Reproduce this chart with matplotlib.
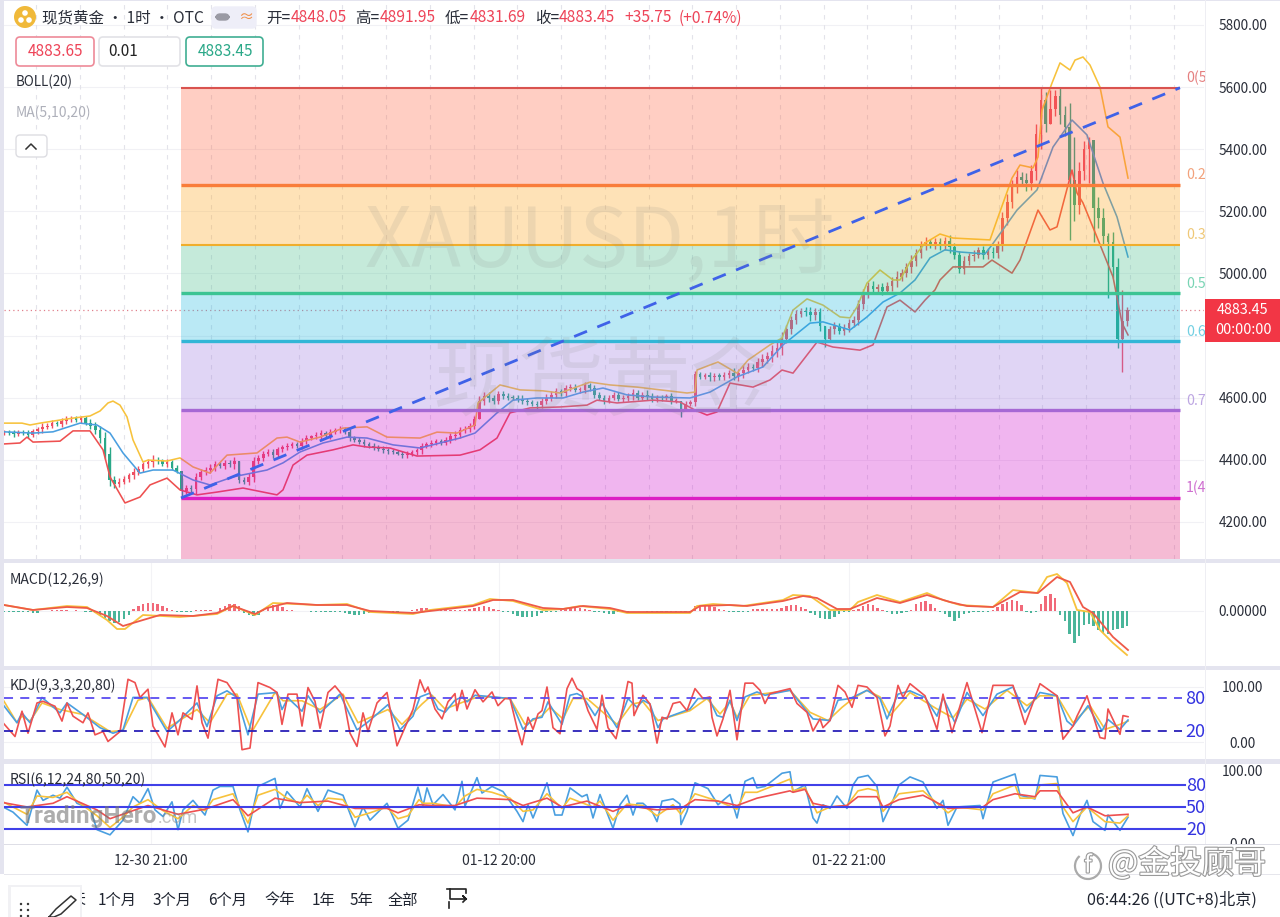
import numpy as np
import matplotlib
matplotlib.use('Agg')
import matplotlib.pyplot as plt
import matplotlib.patheffects as pe
from matplotlib.patches import Rectangle, FancyBboxPatch, Circle, Arc

plt.rcParams['font.family'] = ['Noto Sans CJK SC', 'DejaVu Sans']

W, H = 1280, 917

# ---- price candles, one every 4.8 time units
closes = [4489,4485,4482,4490,4486,4480,4492,4498,4505,4510,
          4520,4515,4525,4530,4535,4528,4533,4520,4510,4495,
          4470,4420,4335,4322,4330,4338,4350,4362,4370,4385,
          4392,4400,4395,4388,4392,4375,4365,4300,4310,4305,
          4345,4360,4368,4375,4385,4380,4390,4385,4395,4335,
          4330,4345,4395,4405,4420,4425,4415,4435,4440,4445,
          4450,4445,4460,4470,4475,4480,4485,4478,4490,4495,
          4500,4490,4470,4465,4458,4450,4445,4440,4435,4430,
          4428,4425,4420,4415,4420,4425,4430,4445,4450,4455,
          4460,4455,4465,4475,4480,4495,4500,4510,4530,4590,
          4605,4598,4590,4612,4605,4600,4598,4595,4590,4585,
          4580,4575,4590,4600,4610,4620,4615,4630,4635,4625,
          4625,4640,4630,4610,4600,4590,4600,4610,4595,4600,
          4605,4615,4600,4610,4605,4595,4600,4598,4605,4590,
          4590,4565,4580,4585,4675,4668,4672,4665,4670,4668,
          4672,4680,4670,4678,4690,4700,4695,4715,4725,4735,
          4750,4760,4790,4820,4850,4870,4880,4875,4865,4875,
          4830,4790,4820,4830,4815,4825,4840,4850,4900,4935,
          4960,4950,4955,4945,4960,4975,4990,5000,5020,5040,
          5065,5090,5100,5095,5100,5090,5105,5085,5060,5015,
          5040,5055,5060,5075,5060,5070,5065,5090,5180,5230,
          5280,5310,5300,5290,5330,5450,5560,5480,5530,5570,
          5510,5470,5300,5220,5330,5400,5430,5210,5180,5120,
          5100,5020,4790,4848.05,4883.45]
wicks = [8,6,10,7,5,9,6,8,12,7, 9,6,8,10,7,5,9,8,10,12,
         15,18,20,12,10,9,8,12,10,9, 11,14,9,8,10,7,9,12,10,8,
         14,10,9,12,11,8,10,9,14,10, 9,12,15,10,8,9,10,7,9,8,
         8,7,9,10,6,8,12,9,10,8, 9,7,10,8,7,9,6,8,7,9,
         8,7,6,9,8,7,9,10,8,9, 8,7,9,10,12,9,8,10,12,14,
         14,12,9,11,8,9,7,10,12,9, 8,10,9,12,11,10,9,12,10,8,
         9,11,8,12,9,10,8,9,7,10,
         10,12,9,8,14,10,9,8,7,9, 8,10,9,7,11,9,8,12,10,11,
         12,10,14,15,14,12,10,13,15,12, 20,18,22,15,14,12,10,13,18,15,
         14,16,12,15,10,12,14,13,15,14, 14,16,12,15,12,15,18,14,13,20,
         15,14,16,12,15,14,13,18,14,12, 16,12,14,10,13,12,14,16,18,25,
         20,22,18,25,20,30,28,25,30,22, 30,28,30,35,30,28,25,30,35,30,
         30,35,30,30,0]
spike_i = [37, 49, 99, 141, 171, 216, 218, 222, 223, 226, 227, 230, 233, 234]
spike_high = [4340,4395,4605,4590,4830,5598,5590,5550,5440,5440,5300,5130,4947,4891.95]
spike_low = [4277,4325,4530,4538,4763,5400,5480,5108,5170,5290,5100,4920,4683,4831.69]

# ---- bollinger bands
upper_t = [4,22,30,40,60,75,90,100,108,113,120,127,133,143,148,167,180,193,210,227,257,277,287,300,320,343,367,387,420,437,457,475,478,500,520,543,560,590,610,637,687,695,697,718,737,748,770,782,793,807,823,840,850,857,867,880,893,900,910,925,940,953,990,997,1012,1020,1033,1038,1042,1052,1060,1070,1075,1083,1090,1100,1108,1120,1128]
upper = [4518,4518,4512,4518,4528,4535,4541,4557,4583,4589,4576,4538,4464,4393,4399,4396,4406,4377,4357,4415,4422,4470,4473,4457,4473,4502,4506,4473,4470,4489,4486,4512,4583,4641,4625,4622,4615,4650,4641,4634,4615,4618,4689,4715,4679,4721,4770,4792,4882,4918,4898,4860,4857,4892,4969,5011,4979,4979,5037,5098,5127,5114,5108,5172,5307,5349,5340,5375,5526,5613,5678,5655,5687,5697,5671,5600,5472,5439,5307]
mid_t = [4,33,53,80,97,110,123,140,153,173,193,210,233,267,283,300,323,347,367,393,420,460,475,497,513,537,563,583,603,627,653,690,710,737,763,783,810,823,850,867,883,900,915,930,945,960,985,992,1017,1037,1053,1072,1087,1103,1117,1128]
mid = [4490,4486,4490,4518,4512,4486,4422,4357,4367,4367,4335,4319,4345,4367,4390,4425,4454,4473,4470,4448,4438,4470,4486,4551,4592,4599,4599,4618,4631,4609,4602,4599,4618,4667,4699,4770,4840,4844,4818,4860,4908,4937,4979,5050,5076,5069,5063,5092,5204,5269,5407,5494,5446,5291,5182,5053]
lower_t = [4,20,27,33,60,73,90,103,110,125,140,150,167,180,197,217,243,277,283,293,307,333,353,367,390,417,460,480,497,510,530,560,587,597,617,653,680,695,707,717,730,753,770,782,793,817,833,860,873,887,900,915,925,935,940,953,983,992,1012,1020,1038,1050,1057,1072,1077,1083,1097,1113,1122,1128]
lower = [4451,4454,4473,4457,4460,4493,4493,4432,4345,4261,4280,4319,4341,4303,4287,4296,4309,4287,4303,4383,4415,4432,4448,4441,4438,4412,4415,4432,4470,4551,4567,4570,4576,4592,4583,4592,4586,4560,4544,4554,4647,4634,4657,4689,4679,4779,4763,4753,4770,4892,4914,4876,4914,4947,4979,5021,5021,5043,5001,5043,5204,5140,5150,5333,5259,5227,5117,4989,4840,4802]

# ---- fibonacci retracement
fib_start, fib_end = 181, 1180
fib_levels = [5598, 5286, 5093, 4937, 4782, 4560, 4277]
fib_labels = ['0(5', '0.2', '0.3', '0.5', '0.6', '0.7', '1(4']
fib_line_colors = ['#d9534f', '#f97d3a', '#f0ae2c', '#3cc493', '#32b6d6', '#a668d4', '#dc1fc4']
fib_text_colors = ['#e58080', '#f2a27c', '#efc878', '#79d4b4', '#72cfe2', '#bda6e2', '#cf6fd0']
fib_fill_colors = ['#ff5f3a', '#fea212', '#41bc87', '#1cb7de', '#9b76de', '#d00ccd', '#e12073']

price_ticks = [4200, 4400, 4600, 4800, 5000, 5200, 5400, 5600, 5800]
shown_ticks = [4200, 4400, 4600, 5000, 5200, 5400, 5600, 5800]
time_ticks = [151, 499, 849]
time_labels = ['12-30 21:00', '01-12 20:00', '01-22 21:00']
last_price = 4883.45

# ---- macd
macd_hist = [-1,-2,-2,-2,-2,-2,-3,-4,1,1, 2,2,2,2,1,2,1,-1,-2,-4,
             -8,-14,-20,-24,-22,-16,-8,4,10,14, 16,16,14,10,6,3,-1,-2,-2,-2,
             2,3,3,2,1,6,10,14,14,10, -4,-8,-10,-8,4,8,12,12,8,2,
             2,1,1,1,-1,-1,-1,-1,-1,-1, -2,-4,-6,-8,-8,-6,-4,-3,-2,-2,
             -1,-1,-1,1,1,2,4,6,6,2, 2,2,2,2,2,3,3,4,6,8,
             10,8,4,2,-1,-2,-6,-10,-12,-12, -12,-10,-4,-1,-2,-2,2,4,6,6,
             6,4,2,-1,-2,-4,-6,-6,-2,-1, -1,1,1,1,-1,-1,-1,-1,-1,-1,
             -1,-1,-1,-2,10,12,12,10,8,4, 2,-1,-1,-2,-2,-2,4,4,4,4,
             5,4,6,10,12,12,8,4,-4,-8, -14,-16,-16,-12,-6,-2,-1,2,4,10,
             14,12,6,2,-2,-6,-6,-4,-2,2, 14,18,20,14,6,-2,-6,-12,-20,-14,
             -6,-3,-2,-2,-1,-1,2,8,14,18, 22,20,12,-2,-3,-2,14,30,34,26,
             -8,-20,-45,-64,-50,-28,-26,-30,-38,-44, -46,-38,-36,-34,-30]
dif_t = [4,33,67,87,107,117,125,143,180,217,233,255,273,317,347,370,413,430,473,490,513,543,563,580,610,627,690,697,713,743,783,793,810,830,850,858,877,900,927,943,960,993,1013,1037,1047,1057,1067,1077,1090,1100,1113,1127]
dif = [12,2,10,8,-18,-36,-36,-8,-12,-6,10,-8,16,12,14,-2,-6,2,12,24,20,2,4,10,4,-4,-4,10,14,10,22,32,30,2,2,18,32,18,36,22,12,8,42,36,68,74,56,2,-2,-38,-64,-88]
dea_t = [4,33,67,87,107,123,143,160,193,217,233,255,267,287,317,347,370,413,430,473,493,513,543,563,583,610,627,690,700,730,747,783,803,817,837,850,860,877,900,927,950,967,993,1020,1038,1057,1070,1083,1093,1113,1128]
dea = [12,2,8,6,-10,-30,-18,-8,-10,-4,10,-6,6,16,12,12,0,-4,0,10,22,22,6,4,10,6,-2,-2,10,12,10,20,30,26,4,4,12,26,16,32,18,10,8,38,36,68,58,8,-4,-52,-78]

# ---- kdj
j_t = [3,15,22,28,37,43,55,62,67,73,83,88,95,103,108,120,128,135,140,148,153,165,172,178,183,192,197,202,208,218,227,237,242,250,258,270,277,282,288,297,302,308,315,320,328,335,343,350,357,363,368,377,387,397,407,413,420,425,428,435,442,448,455,457,462,467,475,483,492,498,505,510,517,522,528,533,538,542,547,553,560,567,572,577,582,588,597,602,608,616,623,628,632,634,643,650,657,662,667,673,680,687,695,703,710,712,717,723,730,737,745,753,760,765,770,790,797,807,813,820,823,830,838,845,852,858,867,877,885,890,898,903,910,925,937,943,952,967,982,993,1013,1025,1040,1057,1063,1073,1077,1087,1100,1105,1108,1120,1123,1128]
j_val = [35,10,56,16,71,74,65,38,71,47,35,53,13,19,1,19,114,108,81,96,29,-9,53,13,53,41,102,35,7,114,108,81,-14,-11,108,99,90,32,87,87,29,99,74,25,90,102,84,16,-8,53,19,71,90,-7,35,59,113,91,100,60,42,73,88,57,94,60,95,73,91,66,79,79,26,-5,45,23,51,57,100,26,15,97,116,97,91,57,23,85,26,6,63,110,107,48,85,69,-2,45,42,70,73,57,97,79,82,45,11,42,94,4,107,107,94,70,88,97,70,54,20,42,26,39,103,91,63,103,100,81,11,29,103,81,106,84,23,87,17,108,17,103,103,32,106,84,5,29,47,84,8,6,60,14,48,46]
k_t = [3,17,22,30,42,60,67,83,100,113,123,133,147,167,177,197,207,217,227,237,248,258,277,282,288,302,308,320,340,357,367,388,400,413,420,430,438,445,455,462,467,475,493,510,523,533,542,548,562,570,577,583,595,602,617,628,637,643,650,658,663,690,698,709,717,723,730,737,745,757,765,790,805,813,830,838,850,867,880,887,898,910,925,937,943,955,967,983,997,1013,1025,1040,1057,1067,1073,1088,1102,1108,1120,1128]
k_val = [68,35,53,35,81,53,71,50,26,16,22,81,81,19,35,71,28,84,93,81,13,87,90,59,80,56,84,53,87,22,35,68,22,47,82,89,60,54,76,82,73,85,82,79,23,42,45,73,32,85,88,82,48,70,26,79,63,76,69,26,42,60,79,79,48,45,76,39,82,91,85,94,60,42,39,76,79,94,79,42,87,93,81,47,81,35,90,48,87,100,54,90,84,38,29,66,20,41,23,40]
d_t = [3,17,22,30,42,60,83,110,123,138,148,167,197,210,227,237,252,275,283,302,320,343,358,388,402,422,432,445,468,480,510,525,542,550,563,573,587,617,632,643,658,663,690,707,720,730,737,750,765,790,810,828,842,853,867,880,890,910,937,953,967,985,1007,1027,1040,1057,1073,1090,1105,1120,1128]
d_val = [77,35,47,38,71,59,50,19,21,76,81,25,59,35,87,87,19,90,75,75,59,87,35,59,32,69,85,60,76,83,79,32,48,63,42,79,79,32,69,73,39,42,57,79,51,73,45,85,88,94,54,39,63,79,94,82,48,90,60,44,78,60,94,66,84,84,35,66,23,32,38]

# ---- rsi
rsi6_t = [3,13,27,37,43,53,60,67,77,90,97,110,123,133,140,148,155,163,172,178,183,193,205,213,220,233,240,248,258,275,280,287,300,307,318,328,343,355,363,370,387,398,408,418,423,427,433,443,455,462,465,477,482,492,503,517,523,528,533,547,555,562,570,582,587,593,600,613,620,627,633,637,643,652,657,662,673,680,681,687,695,708,718,730,737,745,753,757,765,782,790,793,805,813,817,823,830,837,847,853,858,868,877,883,893,899,910,923,937,943,948,957,980,983,993,1015,1020,1035,1040,1057,1063,1073,1080,1087,1093,1105,1108,1120,1128]
rsi6 = [50,43,25,73,59,66,62,77,55,48,19,12,32,64,55,75,46,37,57,19,46,59,39,73,78,78,46,16,78,89,48,71,50,75,44,73,66,23,50,32,55,21,32,77,51,76,53,67,46,85,51,90,69,78,71,44,30,53,35,83,39,39,76,64,67,35,67,21,53,66,39,55,55,44,30,58,61,54,26,44,83,75,53,67,35,85,90,76,78,96,98,71,80,35,28,53,48,65,48,80,90,93,78,30,59,80,91,84,48,59,25,50,52,34,84,95,66,61,93,91,41,11,39,59,30,18,39,18,36]
rsi12_t = [3,27,37,53,67,77,97,110,123,133,148,163,178,193,205,213,233,248,258,275,287,300,307,318,328,343,355,370,387,398,408,419,423,433,455,465,477,492,510,523,533,547,562,570,593,600,613,627,643,657,673,681,695,718,737,745,757,790,793,805,817,830,847,858,868,877,883,899,923,948,957,983,993,1015,1020,1035,1040,1057,1063,1073,1087,1105,1120,1128]
rsi12 = [57,40,65,63,70,58,38,22,36,50,60,45,34,52,45,60,68,28,66,74,62,55,66,52,62,60,36,42,50,34,38,60,55,55,50,65,74,70,62,44,46,68,48,62,50,58,32,54,52,38,53,40,68,58,47,70,70,88,72,76,42,50,52,72,75,72,44,68,72,42,50,46,68,80,62,62,80,82,50,30,50,30,28,38]
rsi24_t = [3,27,53,67,97,110,133,148,178,205,233,248,275,300,328,355,387,398,419,433,455,477,510,523,547,562,587,613,627,657,681,695,718,737,757,790,793,805,813,830,847,858,877,883,899,923,948,983,993,1015,1035,1040,1057,1073,1087,1105,1128]
rsi24 = [56,50,55,64,46,34,45,52,40,47,60,38,62,56,58,48,48,42,53,52,52,62,60,52,62,50,58,44,52,46,48,60,58,52,62,72,70,74,55,50,52,64,64,50,60,66,48,50,60,68,64,72,72,42,50,38,40]

UP = '#ef4f62'
DOWN = '#2aa888'
YELLOW = '#f7c23c'
BLUE = '#4a9fe0'
RED = '#ee5050'


def pane(y0, y1, ylim):
    ax = fig.add_axes([4 / W, 1 - y1 / H, 1200 / W, (y1 - y0) / H])
    ax.set_xlim(4, 1204)
    ax.set_ylim(*ylim)
    for s in ax.spines.values():
        s.set_visible(False)
    ax.set_xticks([])
    ax.yaxis.tick_right()
    ax.tick_params(axis='y', length=0, pad=28, labelsize=9.8, labelcolor='#2a2e39')
    return ax


def set_prices(ax, ticks, labels):
    ax.set_yticks(ticks)
    ax.set_yticklabels(labels)
    for t in ax.get_yticklabels():
        t.set_ha('center')


fig = plt.figure(figsize=(W / 100, H / 100), dpi=100, facecolor='white')

# ---------- main pane
ax = pane(0, 559, (4080.5, 5880.5))
set_prices(ax, shown_ticks, ['%.2f' % p for p in shown_ticks])

for p in price_ticks:
    ax.axhline(p, color='#f1f1f5', lw=0.8, zorder=0)
for t in np.arange(36, 1204, 43.75):
    ax.axvline(t, color='#e3e3ea', lw=0.8, ls=(0, (4, 5)), zorder=0)

candle_t = 4 + 4.8 * np.arange(len(closes))
c = np.array(closes, dtype=float)
o = np.r_[c[0], c[:-1]]
w = np.array(wicks, dtype=float)
hi = np.maximum(o, c) + w
lo = np.minimum(o, c) - w
hi[spike_i] = spike_high
lo[spike_i] = spike_low
col = [UP if b >= a else DOWN for a, b in zip(o, c)]
ax.vlines(candle_t, lo, hi, colors=col, lw=1.0, zorder=2)
ax.bar(candle_t, np.maximum(np.abs(c - o), 4), bottom=np.minimum(o, c), width=2.6, color=col, lw=0, zorder=2)

ax.plot(upper_t, upper, color=YELLOW, lw=1.15, zorder=2)
ax.plot(mid_t, mid, color=BLUE, lw=1.15, zorder=2)
ax.plot(lower_t, lower, color=RED, lw=1.15, zorder=2)

ax.axhline(last_price, color='#e0808c', lw=0.9, ls=(0, (1, 2.5)), zorder=2)

# fib bands go over the candles
edges = fib_levels + [ax.get_ylim()[0]]
for i in range(len(fib_levels)):
    ax.fill_between([fib_start, fib_end], edges[i + 1], edges[i], color=fib_fill_colors[i], alpha=0.3, lw=0, zorder=3)
for i, lev in enumerate(fib_levels):
    thick = 2.4 if i in (1, 3, 4, 5, 6) else 1.5
    ax.plot([fib_start, fib_end], [lev, lev], color=fib_line_colors[i], lw=thick, solid_capstyle='butt', zorder=4)
    ax.text(1186, lev + 8, fib_labels[i], color=fib_text_colors[i], fontsize=10.2, va='bottom', ha='left', zorder=5)

ax.plot([fib_start, fib_end], [fib_levels[-1], fib_levels[0]], color='#3f62e8', lw=2.0, ls=(0, (5, 4)), zorder=4)

ax.text(600, 5095, 'XAUUSD,1时', fontsize=59, color='#808080', alpha=0.13, ha='center', va='center', zorder=5)
ax.text(605, 4640, '现货黄金', fontsize=62, color='#808080', alpha=0.13, ha='center', va='center', zorder=5)

# ---------- macd pane
ax_m = pane(563, 666, (-110, 96))
set_prices(ax_m, [0], ['0.00000'])
ax_m.axhline(0, color='#f1f1f5', lw=0.8, zorder=0)
hist = np.array(macd_hist, dtype=float)
ax_m.bar(candle_t, hist, width=2.4, color=[UP if v > 0 else DOWN for v in hist], lw=0, alpha=0.85, zorder=1)
ax_m.plot(dif_t, dif, color=YELLOW, lw=1.3, zorder=2)
ax_m.plot(dea_t, dea, color='#ee5a48', lw=1.3, zorder=3)
for t in time_ticks:
    ax_m.axvline(t, color='#f3f3f6', lw=0.8, zorder=0)

# ---------- kdj pane
ax_k = pane(670, 759, (-30.9, 130.9))
set_prices(ax_k, [0, 100], ['0.00', '100.00'])
ax_k.plot(d_t, d_val, color=YELLOW, lw=1.2, zorder=2)
ax_k.plot(k_t, k_val, color=BLUE, lw=1.2, zorder=3)
ax_k.plot(j_t, j_val, color=RED, lw=1.2, zorder=4)
for v in (0, 100):
    ax_k.axhline(v, color='#f1f1f5', lw=0.8, zorder=0)
for t in time_ticks:
    ax_k.axvline(t, color='#f3f3f6', lw=0.8, zorder=0)
ax_k.plot([4, 1182], [80, 80], color='#5a4cf0', lw=1.3, ls=(0, (5, 4)), zorder=5)
ax_k.plot([4, 1182], [20, 20], color='#2a20b8', lw=1.3, ls=(0, (5, 4)), zorder=5)
ax_k.text(1185, 78, '80', color='#3434e0', fontsize=13, va='center')
ax_k.text(1185, 18, '20', color='#3434e0', fontsize=13, va='center')

# ---------- rsi pane
ax_r = pane(764, 844, (-0.5, 108.6))
set_prices(ax_r, [0, 100], ['0.00', '100.00'])
ax_r.plot(rsi6_t, rsi6, color=BLUE, lw=1.2, zorder=2)
ax_r.plot(rsi12_t, rsi12, color=YELLOW, lw=1.2, zorder=3)
ax_r.plot(rsi24_t, rsi24, color=RED, lw=1.2, zorder=4)
for t in time_ticks:
    ax_r.axvline(t, color='#f3f3f6', lw=0.8, zorder=0)
for v in (80, 50, 20):
    ax_r.plot([4, 1185], [v, v], color='#4040e8', lw=1.5, zorder=5)
    ax_r.text(1186, v - 1, str(v), color='#3434e0', fontsize=13, va='center')

ax_r.set_xticks(time_ticks)
ax_r.set_xticklabels(time_labels, fontsize=10, color='#2a2e39')
ax_r.tick_params(axis='x', length=0, pad=7.2)

# ---------- screen furniture, in pixels
ui = fig.add_axes([0, 0, 1, 1], zorder=10)
ui.set_xlim(0, W)
ui.set_ylim(H, 0)
ui.axis('off')
ui.patch.set_alpha(0)


def rect(x0, y0, x1, y1, color, z=1):
    ui.add_patch(Rectangle((x0, y0), x1 - x0, y1 - y0, fc=color, ec='none', zorder=z))


def rbox(x0, y0, x1, y1, ec, fc='white', z=3, lw=1.0):
    ui.add_patch(FancyBboxPatch((x0, y0), x1 - x0, y1 - y0, boxstyle='round,pad=0,rounding_size=4', fc=fc, ec=ec, lw=lw, zorder=z))


def label(x, y, s, color='#2a2e39', size=10.8, ha='left', z=4, **kw):
    return ui.text(x, y + 1, s, color=color, fontsize=size, ha=ha, va='center', zorder=z, **kw)


SEP = '#e4e4ef'
rect(0, 0, 4, 874, SEP)
rect(0, 559, W, 563, SEP)
rect(0, 666, W, 670, SEP)
rect(0, 759, W, 764, SEP)
rect(0, 0, W, 1, SEP)
rect(1205, 0, 1206, 844, '#eeeef3')
rect(4, 844, W, 845, '#dedee6')
rect(1205, 845, W, 870, 'white')
rect(4, 874, W, 875, '#e6e6ec')

# header
ui.add_patch(Circle((25, 17), 11, fc='#f0b93a', ec='none', zorder=3))
for cx, cy in [(25, 13), (21, 20), (29, 20)]:
    ui.add_patch(Circle((cx, cy), 2.8, fc='white', ec='none', zorder=4))
label(42, 17, '现货黄金 • 1时 • OTC', size=11.2)
rbox(212, 7, 256, 28, '#eeeef8', fc='#eeeef8')
rbox(216, 14, 229, 20, '#9a9aa4', fc='#9a9aa4')
label(238, 16, '≈', color='#f0904a', size=11)
for x, s in zip([266, 355, 445, 535], ['开=', '高=', '低=', '收=']):
    label(x, 17, s, size=11.2)
for x, s in zip([291, 380, 470, 559, 624, 679], ['4848.05', '4891.95', '4831.69', '4883.45', '+35.75', '(+0.74%)']):
    label(x, 17, s, color='#ee4458', size=11.2)

rbox(16, 37, 94, 66, '#ee8a98', lw=1.2)
label(55, 51, '4883.65', color='#ee4458', ha='center', size=11)
rbox(99, 37, 180, 66, '#e2e2e6', lw=1.2)
label(108, 51, '0.01', color='#222222', size=11)
rbox(186, 37, 263, 66, '#3fae92', lw=1.2)
label(225, 51, '4883.45', color='#2aa888', ha='center', size=11)

label(16, 81, 'BOLL(20)', size=9.6)
label(16, 112, 'MA(5,10,20)', color='#aeb0ba', size=10)
rbox(16, 135, 47, 157, '#dddde2')
ui.plot([26, 31, 36], [149, 144, 149], color='#333333', lw=1.1, zorder=5)

# price tag
rect(1205, 299, 1280, 342, '#f23645', z=5)
label(1243, 309, '4883.45', color='white', ha='center', z=6, size=10.4)
label(1243, 329, '00:00:00', color='white', ha='center', z=6, size=10.4)

# pane titles
label(10, 579, 'MACD(12,26,9)', size=10.1)
label(10, 685, 'KDJ(9,3,3,20,80)', size=10.2)
label(10, 779, 'RSI(6,12,24,80,50,20)', size=10.1)

# watermarks
ui.text(20, 817, 'TradingHero', family='Roboto', fontweight='bold', fontsize=17.5, color='#777777', alpha=0.6, va='center', zorder=6)
ui.text(158, 818, '.com', family='Roboto', fontsize=13, color='#888888', alpha=0.5, va='center', zorder=6)
halo = [pe.withStroke(linewidth=1.6, foreground='#9a9a9a')]
ui.text(1108, 864, '@金投顾哥', color='white', fontsize=23, va='center', zorder=7, path_effects=[pe.Stroke(linewidth=1.6, foreground='#9a9a9a'), pe.Normal()])
ui.add_patch(Arc((1088, 866), 26, 26, theta1=-80, theta2=230, ec='#aaaaaa', lw=1.6, zorder=7))
ui.text(1088, 866, 'f', color='white', fontsize=17, ha='center', va='center', zorder=7, path_effects=halo)

# bottom toolbar
label(70, 899, '天', size=10.8, color='#1f2430')
for x, s in zip([98, 153, 208, 264, 312, 350, 388], ['1个月', '3个月', '6个月', '今年', '1年', '5年', '全部']):
    label(x, 899, s, size=11, color='#1f2430')
ui.plot([447, 466, 466], [889, 889, 893], color='#222222', lw=1.2, zorder=4)
ui.plot([450, 450, 466, 463, 466], [889, 899, 899, 896, 899], color='#222222', lw=1.2, zorder=4)
ui.plot([466, 463], [899, 902], color='#222222', lw=1.2, zorder=4)
ui.plot([449, 449], [902, 908], color='#222222', lw=1.2, zorder=4)
label(1087, 899, '06:44:26 ((UTC+8)北京)', size=11.6, color='#1f2430')

# floating drawing toolbar, runs off the bottom
rect(8, 885, 82, H, '#f1f1f4', z=6)
rect(11, 887, 80, H, 'white', z=7)
for dx in (21, 28):
    for dy in (904, 910, 916):
        ui.add_patch(Circle((dx, dy), 1.2, fc='#333333', ec='none', zorder=8))
ui.plot([49, 56, 71, 76, 61, 54, 49], [917, 909, 896, 900, 914, 917, 917], color='#333333', lw=1.1, zorder=8)

fig.savefig('out.png', dpi=100, facecolor='white')
